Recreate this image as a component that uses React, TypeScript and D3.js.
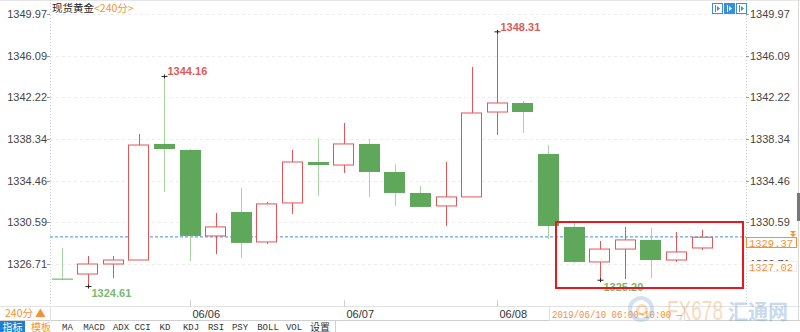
import React from "react";
import * as d3 from "d3";

const times = [
  "06/05 10:00", "06/05 14:00", "06/05 18:00", "06/05 22:00", "06/06 02:00",
  "06/06 06:00", "06/06 10:00", "06/06 14:00", "06/06 18:00", "06/06 22:00", "06/07 02:00",
  "06/07 06:00", "06/07 10:00", "06/07 14:00", "06/07 18:00", "06/07 22:00", "06/08 02:00",
  "06/08 06:00", "06/08 10:00", "06/08 14:00", "06/08 18:00", "06/08 22:00", "06/09 02:00",
  "06/10 06:00", "06/10 10:00", "06/10 14:00",
];
const opens = [1325.35, 1325.78, 1326.71, 1327.08, 1337.88, 1337.32, 1329.32, 1331.55, 1328.76, 1332.39, 1336.2, 1335.92, 1337.88, 1335.27, 1333.32, 1332.11, 1332.95, 1340.85, 1341.69, 1336.95, 1330.16, 1326.9, 1328.1, 1328.95, 1327.08, 1328.2];
const highs = [1328.2, 1327.46, 1327.46, 1338.81, 1344.16, 1337.4, 1331.46, 1333.8, 1332.48, 1337.32, 1338.44, 1339.83, 1338.34, 1336.0, 1333.97, 1336.2, 1345.04, 1348.31, 1341.88, 1337.78, 1330.62, 1328.85, 1330.16, 1330.06, 1329.69, 1329.88];
const lows = [1325.22, 1324.61, 1325.4, 1327.08, 1333.4, 1326.99, 1327.64, 1327.27, 1328.57, 1331.37, 1333.04, 1335.18, 1332.95, 1332.11, 1332.02, 1330.25, 1332.95, 1338.72, 1338.9, 1329.04, 1326.81, 1325.2, 1325.3, 1325.4, 1326.9, 1328.0];
const closes = [1325.32, 1326.71, 1327.08, 1337.78, 1337.41, 1329.32, 1330.16, 1328.67, 1332.3, 1336.2, 1335.92, 1337.88, 1335.27, 1333.32, 1332.02, 1332.95, 1340.76, 1341.69, 1340.85, 1330.25, 1326.9, 1328.1, 1328.95, 1327.08, 1327.83, 1329.2];

const yTicks = [1349.97, 1346.09, 1342.22, 1338.34, 1334.46, 1330.59, 1326.71];
const dayLabels = [
  { idx: 5, label: "06/06" },
  { idx: 11, label: "06/07" },
  { idx: 17, label: "06/08" },
];
const extremes = [
  { idx: 4, value: 1344.16, label: "1344.16", kind: "high" },
  { idx: 17, value: 1348.31, label: "1348.31", kind: "high" },
  { idx: 1, value: 1324.61, label: "1324.61", kind: "low" },
  { idx: 21, value: 1325.2, label: "1325.20", kind: "low" },
];
const currentPrice = 1329.37;
const refPrice = 1327.02;
const toolbarTabs = ["指标", "模板", "MA", "MACD", "ADX", "CCI", "KD", "KDJ", "RSI", "PSY", "BOLL", "VOL", "设置"];
const toolbarEdges = [0, 25, 57, 78, 110, 132, 153, 177, 205, 227, 253, 283, 305, 335];

const RED = "#e0575a";
const GREEN = "#5fa75a";
const GREEN_WICK = "#a9d4a3";
const ORANGE = "#f5922f";
const SANS = "'Liberation Sans', Arial, sans-serif";
const MONO = "'Liberation Mono', 'DejaVu Sans Mono', monospace";
const CJK = "'Noto Sans CJK SC', sans-serif";

export default function App() {
  const W = 800, H = 332;
  const left = 50, right = 746;
  const x = d3.scaleBand<number>()
    .domain(d3.range(times.length))
    .range([49.2, 714.8])
    .paddingInner(0.18)
    .paddingOuter(0.09);
  const y = d3.scaleLinear().domain([1326.71, 1349.97]).range([264, 14]);
  const bw = x.bandwidth();
  const cx = (i: number) => (x(i) as number) + bw / 2;

  const candles = times.map((t, i) => {
    const o = opens[i], c = closes[i], h = highs[i], l = lows[i];
    const up = c >= o;
    const top = y(Math.max(o, c));
    const bot = y(Math.min(o, c));
    const hgt = Math.max(1, bot - top);
    const xc = Math.round(cx(i)) + 0.5;
    return (
      <g key={t}>
        <line x1={xc} x2={xc} y1={y(h)} y2={top} stroke={up ? RED : GREEN_WICK} strokeWidth={1} />
        <line x1={xc} x2={xc} y1={bot} y2={y(l)} stroke={up ? RED : GREEN_WICK} strokeWidth={1} />
        {up ? (
          <rect x={Math.round(x(i) as number) + 0.5} y={top} width={Math.round(bw) - 1} height={hgt} fill="#fff" stroke={RED} strokeWidth={1} />
        ) : (
          <rect x={Math.round(x(i) as number)} y={top} width={Math.round(bw)} height={hgt} fill={GREEN} />
        )}
      </g>
    );
  });

  const ypx = y(currentPrice);

  return (
    <svg width={W} height={H} style={{ position: "absolute", left: 0, top: 0, background: "#fff" }} fontFamily={SANS}>
      <rect x={0} y={0} width={W} height={H} fill="#fff" />
      <line x1={0} x2={W} y1={0.5} y2={0.5} stroke="#e6e6e6" />
      {yTicks.map((t) => (
        <line key={"g" + t} x1={left} x2={right} y1={Math.round(y(t)) + 0.5} y2={Math.round(y(t)) + 0.5} stroke="#ececec" strokeDasharray="3,3" />
      ))}
      <line x1={left + 0.5} x2={left + 0.5} y1={0} y2={306} stroke="#c9d3dc" strokeDasharray="1,2" />
      <line x1={right + 0.5} x2={right + 0.5} y1={0} y2={306} stroke="#c9d3dc" strokeDasharray="1,2" />
      <line x1={798.5} x2={798.5} y1={0} y2={321} stroke="#d8d8d8" />
      <rect x={797} y={193} width={3} height={28} fill="#777" />
      {yTicks.map((t) => (
        <g key={"t" + t}>
          <line x1={left - 3} x2={left} y1={Math.round(y(t)) + 0.5} y2={Math.round(y(t)) + 0.5} stroke="#999" />
          <line x1={right} x2={right + 3} y1={Math.round(y(t)) + 0.5} y2={Math.round(y(t)) + 0.5} stroke="#999" />
          <text x={left - 3} y={y(t)} dy="0.35em" textAnchor="end" fontSize={11} fill="#444">{t.toFixed(2)}</text>
          <text x={right + 4} y={y(t)} dy="0.35em" textAnchor="start" fontSize={11} fill="#444">{t.toFixed(2)}</text>
        </g>
      ))}
      <text x={52} y={12} fontSize={10.5} fontFamily={CJK} fill="#222">现货黄金<tspan fill={ORANGE}>&lt;240分&gt;</tspan></text>
      {[712, 724, 736].map((ix, k) => (
        <g key={"ic" + k}>
          <rect x={ix + 0.5} y={3.5} width={10} height={10} fill={k === 1 ? "#3a8ee0" : "#fff"} stroke="#3a8ee0" />
          <line x1={ix + 3.5} x2={ix + 3.5} y1={5} y2={12} stroke={k === 1 ? "#fff" : "#3a8ee0"} />
          <path d={`M${ix + 5},6 L${ix + 8},8.5 L${ix + 5},11 Z`} fill={k === 1 ? "#fff" : "#3a8ee0"} />
        </g>
      ))}
      <line x1={left} x2={right} y1={ypx + 1.5} y2={ypx + 1.5} stroke="#3d8fe3" strokeDasharray="3,2" />
      {candles}
      {extremes.map((e) => {
        const xc = Math.round(cx(e.idx)) + 0.5;
        const yy = y(e.value);
        return (
          <g key={"e" + e.label}>
            <line x1={xc - 3} x2={xc + 3} y1={yy} y2={yy} stroke="#222" />
            <line x1={xc} x2={xc} y1={yy - 2} y2={yy + 2} stroke="#222" />
            <text x={xc + 3} y={e.kind === "high" ? yy - 5 : yy + 7} dy="0.35em" fontSize={11} fontWeight="bold"
              fill={e.kind === "high" ? "#e05a5a" : "#7ab873"}>{e.label}</text>
          </g>
        );
      })}
      <rect x={556} y={222} width={187} height={66} fill="none" stroke="#e8181d" strokeWidth={2} />
      <rect x={746.5} y={237.5} width={50} height={10} fill="#fff" stroke={ORANGE} />
      <text x={749} y={243} dy="0.35em" fontSize={11} fontFamily={MONO} fill={ORANGE} textLength={44} lengthAdjust="spacingAndGlyphs">{currentPrice.toFixed(2)}</text>
      <path d="M790,231 L796,231 L793,234 Z M790,234 L796,234 L793,237 Z" fill={ORANGE} />
      <rect x={746.5} y={261.5} width={50} height={10} fill="#fff" stroke="#eee" />
      <text x={749} y={267} dy="0.35em" fontSize={11} fontFamily={MONO} fill={ORANGE} textLength={44} lengthAdjust="spacingAndGlyphs">{refPrice.toFixed(2)}</text>
      <line x1={0} x2={W} y1={306.5} y2={306.5} stroke="#e3e3e3" />
      <line x1={0} x2={W} y1={320.5} y2={320.5} stroke="#cfcfcf" />
      <line x1={left + 0.5} x2={left + 0.5} y1={306} y2={321} stroke="#e3e3e3" />
      <text x={5} y={313.5} dy="0.35em" fontSize={10.5} fontFamily={CJK} fill={ORANGE}>240分 ▲</text>
      {dayLabels.map((d) => {
        const xc = Math.round(cx(d.idx)) + 0.5;
        return (
          <g key={"d" + d.label}>
            <line x1={xc} x2={xc} y1={300} y2={307} stroke="#d0d0d0" />
            <text x={xc + 2} y={314} dy="0.35em" fontSize={11} fill="#333">{d.label}</text>
          </g>
        );
      })}
      <rect x={549.5} y={306.5} width={135} height={14} fill="#fff" fillOpacity={0.85} stroke="#e0e0e0" />
      <text x={552} y={314} dy="0.35em" fontSize={10} fontFamily={MONO} fill={ORANGE} textLength={130} lengthAdjust="spacingAndGlyphs">2019/06/10 06:00~10:00 —</text>
      <g opacity={0.38}>
        <circle cx={641} cy={309} r={11} fill="none" stroke="#8fb3dd" strokeWidth={4} />
        <circle cx={642} cy={310} r={4.5} fill="none" stroke="#f2a35a" strokeWidth={3} />
        <text x={667} y={320} fontSize={27} fontFamily={SANS} fill="#f3a05a" textLength={56} lengthAdjust="spacingAndGlyphs">FX678</text>
        <text x={728} y={319} fontSize={21} fontFamily={CJK} fill="#6f9fd6" fontWeight="bold" textLength={60} lengthAdjust="spacingAndGlyphs">汇通网</text>
      </g>
      {toolbarTabs.map((tab, i) => {
        const x0 = toolbarEdges[i], x1 = toolbarEdges[i + 1];
        const cjk = /[\u4e00-\u9fff]/.test(tab);
        return (
          <g key={"tb" + tab}>
            <rect x={x0} y={321} width={x1 - x0} height={11} fill={i === 0 ? "#1f7ed4" : "#fff"} />
            <line x1={x1 + 0.5} x2={x1 + 0.5} y1={321} y2={332} stroke="#cfcfcf" />
            <text x={(x0 + x1) / 2} y={327} dy="0.35em" textAnchor="middle" fontSize={cjk ? 10 : 9}
              fontFamily={cjk ? CJK : MONO} fill={i === 0 ? "#fff" : i === 1 ? ORANGE : "#333"}>{tab}</text>
          </g>
        );
      })}
    </svg>
  );
}
